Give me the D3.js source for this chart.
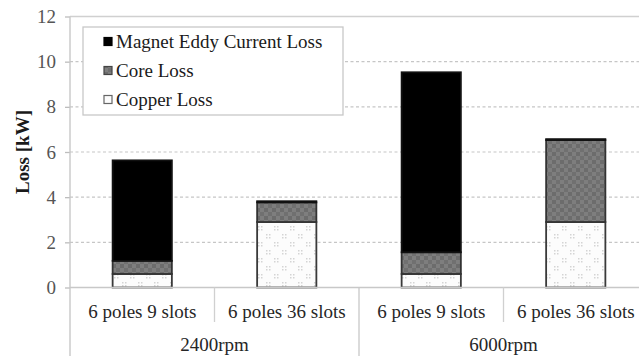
<!DOCTYPE html>
<html><head><meta charset="utf-8">
<script src="https://cdn.jsdelivr.net/npm/d3@7"></script>
<style>body{margin:0;background:#fff}svg{display:block}</style>
</head><body>
<svg id="c" width="639" height="356"></svg>
<script>
const categories = ["6 poles 9 slots","6 poles 36 slots","6 poles 9 slots","6 poles 36 slots"];
const groups = ["2400rpm","6000rpm"];
const copperLoss = [0.6, 2.9, 0.6, 2.9];
const coreLoss = [0.58, 0.87, 0.96, 3.63];
const magnetLoss = [4.45, 0.05, 7.97, 0.04];
const seriesNames = ["Magnet Eddy Current Loss","Core Loss","Copper Loss"];
const yTicks = [0,2,4,6,8,10,12];
const FONT = '"Liberation Serif"';

const svg = d3.select("#c");
const defs = svg.append("defs");
const pc = defs.append("pattern").attr("id","pCore").attr("width",8).attr("height",8).attr("patternUnits","userSpaceOnUse");
pc.append("rect").attr("width",8).attr("height",8).attr("fill","#7e7e7e");
pc.append("rect").attr("width",4).attr("height",4).attr("fill","#6c6c6c");
pc.append("rect").attr("x",4).attr("y",4).attr("width",4).attr("height",4).attr("fill","#707070");
const pp = defs.append("pattern").attr("id","pCopper").attr("width",16).attr("height",16).attr("patternUnits","userSpaceOnUse");
pp.append("rect").attr("width",16).attr("height",16).attr("fill","#fcfcfc");
[[2,2],[5,2],[2,5],[5,5],[10,10],[13,10],[10,13],[13,13]].forEach(([x,y])=>pp.append("rect").attr("x",x).attr("y",y).attr("width",1.5).attr("height",1.5).attr("fill","#d4d4d4"));

const x0 = 70, x1 = 648, yTop = 16.5, yBase = 287.5;
const x = d3.scaleBand().domain(d3.range(categories.length)).range([x0,x1]).paddingInner(0.59).paddingOuter(0.295);
const y = d3.scaleLinear().domain([0,12]).range([yBase,yTop]);

svg.append("g").selectAll("line").data(yTicks.filter(t=>t>0&&t<12)).join("line")
  .attr("x1",x0).attr("x2",x1).attr("y1",d=>y(d)).attr("y2",d=>y(d))
  .attr("stroke","#c6c6c6").attr("stroke-width",1.2).attr("stroke-dasharray","3,2.5");
svg.append("line").attr("x1",x0).attr("x2",x1).attr("y1",y(12)).attr("y2",y(12)).attr("stroke","#d0d0d0").attr("stroke-width",1.3);

const yAxis = d3.axisLeft(y).tickValues(yTicks).tickSize(5).tickPadding(9);
const ga = svg.append("g").attr("transform",`translate(${x0},0)`).call(yAxis);
ga.select(".domain").remove();
ga.selectAll(".tick line").attr("stroke","#bdbdbd").attr("stroke-width",1.3);
ga.selectAll(".tick text").style("font-family",FONT).style("font-size","19px").attr("fill","#555");
svg.append("line").attr("x1",x0).attr("x2",x0).attr("y1",yTop).attr("y2",356).attr("stroke","#c8c8c8").attr("stroke-width",1.4);

svg.append("text").attr("transform","translate(29,152) rotate(-90)").attr("text-anchor","middle")
  .style("font-family",FONT).style("font-size","19px").style("font-weight","bold").attr("fill","#1a1a1a").text("Loss [kW]");

const stack = categories.map((c,i)=>[
  {k:"copper",y0:0,y1:copperLoss[i]},
  {k:"core",y0:copperLoss[i],y1:copperLoss[i]+coreLoss[i]},
  {k:"magnet",y0:copperLoss[i]+coreLoss[i],y1:copperLoss[i]+coreLoss[i]+magnetLoss[i]}
]);
const fills = {copper:"url(#pCopper)",core:"url(#pCore)",magnet:"#000"};
const strokes = {copper:"#3a3a3a",core:"#333",magnet:"#111"};
const gb = svg.append("g");
stack.forEach((segs,i)=>{
  gb.selectAll(null).data(segs).join("rect")
    .attr("x",x(i)).attr("width",x.bandwidth())
    .attr("y",d=>y(d.y1)).attr("height",d=>y(d.y0)-y(d.y1))
    .attr("fill",d=>fills[d.k]).attr("stroke",d=>strokes[d.k]).attr("stroke-width",1.8);
});

svg.append("line").attr("x1",x0).attr("x2",x1).attr("y1",yBase).attr("y2",yBase).attr("stroke","#c8c8c8").attr("stroke-width",1.4);
const sepCat = [1,3].map(i=>x(i)-x.step()*x.paddingInner()/2);
svg.append("g").selectAll("line").data(sepCat).join("line")
  .attr("x1",d=>d).attr("x2",d=>d).attr("y1",yBase).attr("y2",322).attr("stroke","#d0d0d0").attr("stroke-width",1.3);
const sepGrp = [2].map(i=>x(i)-x.step()*x.paddingInner()/2);
svg.append("g").selectAll("line").data(sepGrp).join("line")
  .attr("x1",d=>d).attr("x2",d=>d).attr("y1",yBase).attr("y2",356).attr("stroke","#c8c8c8").attr("stroke-width",1.3);

svg.append("g").selectAll("text").data(categories).join("text")
  .attr("x",(d,i)=>x(i)+x.bandwidth()/2).attr("y",318).attr("text-anchor","middle")
  .style("font-family",FONT).style("font-size","19px").attr("fill","#262626").text(d=>d);
svg.append("g").selectAll("text").data(groups).join("text")
  .attr("x",(d,i)=>(x(2*i)+x(2*i+1)+x.bandwidth())/2).attr("y",351).attr("text-anchor","middle")
  .style("font-family",FONT).style("font-size","19px").attr("fill","#262626").text(d=>d);

const lg = svg.append("g");
lg.append("rect").attr("x",83).attr("y",27).attr("width",260).attr("height",88).attr("fill","#fff").attr("stroke","#c8c8c8").attr("stroke-width",1.3);
const legFill = ["#000","url(#pCore)","url(#pCopper)"];
const legStroke = ["#000","#444","#666"];
const legY = [42,71,100];
seriesNames.forEach((n,i)=>{
  lg.append("rect").attr("x",104).attr("y",legY[i]-4.5).attr("width",8).attr("height",8).attr("fill",legFill[i]).attr("stroke",legStroke[i]).attr("stroke-width",1.2);
  lg.append("text").attr("x",116).attr("y",legY[i]+6).style("font-family",FONT).style("font-size","19px").attr("fill","#1a1a1a").text(n);
});
</script>
</body></html>
